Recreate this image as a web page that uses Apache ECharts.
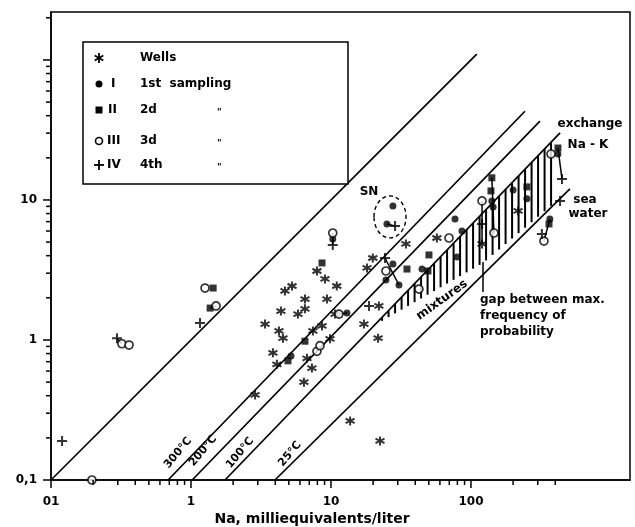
<!DOCTYPE html>
<html>
<head>
<meta charset="utf-8">
<script src="https://cdn.jsdelivr.net/npm/echarts@6/dist/echarts.min.js"></script>
<style>
html, body { margin: 0; padding: 0; background: #fff; }
#chart { width: 635px; height: 527px; }
</style>
</head>
<body>
<div id="chart"></div>
<script>
// axis ranges (log10 scale)
const xMin = 0.1, xMax = 1368;
const yMin = 0.1, yMax = 220;

// tick labels as printed on the figure
const xTickLabels = { 0.1: '01', 1: '1', 10: '10', 100: '100' };
const yTickLabels = { 0.1: '0,1', 1: '1', 10: '10' };
const xMajorTicks = [0.1, 1, 10, 100];
const yMajorTicks = [0.1, 1, 10, 100];
const xMinorTicks = [0.2, 0.3, 0.4, 0.5, 0.6, 0.7, 0.8, 0.9, 2, 3, 4, 5, 6, 7, 8, 9,
    20, 30, 40, 50, 60, 70, 80, 90, 200, 300, 400];
const yMinorTicks = [0.2, 0.3, 0.4, 0.5, 0.6, 0.7, 0.8, 0.9, 2, 3, 4, 5, 6, 7, 8, 9,
    20, 30, 40, 50, 60, 70, 80, 90, 200];

// samples, [Na, K] in meq/l
const wells = [[2.87, 0.405], [3.38, 1.30], [3.85, 0.81], [4.11, 0.67], [4.25, 1.16], [4.54, 1.03],
    [4.69, 2.24], [5.27, 2.43], [4.39, 1.61], [5.81, 1.53], [6.52, 1.96], [6.52, 1.67], [7.43, 1.16],
    [8.63, 1.26], [6.74, 0.74], [7.31, 0.63], [6.41, 0.50], [9.84, 1.02], [9.36, 1.96], [7.94, 3.11],
    [9.06, 2.73], [11.0, 2.43], [10.7, 1.53], [18.1, 3.27], [19.9, 3.85], [34.3, 4.85], [22.0, 1.75],
    [17.2, 1.30], [21.7, 1.03], [57.1, 5.35], [120, 4.85], [217, 8.35], [13.7, 0.264], [22.4, 0.19]];
const sampling1 = [[27.7, 9.06], [25.1, 6.74], [10.3, 5.26], [5.18, 0.77], [27.7, 3.49], [24.7, 2.68],
    [30.6, 2.47], [13.0, 1.56], [44.7, 3.21], [79.4, 3.92], [86.3, 6.01], [76.9, 7.31], [141, 9.84],
    [144, 8.91], [200, 11.8], [251, 10.2], [418, 21.3], [366, 7.31]];
const sampling2 = [[1.44, 2.35], [1.37, 1.69], [4.93, 0.71], [6.52, 0.98], [8.63, 3.55], [50.1, 4.05],
    [49.3, 3.11], [141, 14.4], [139, 11.6], [251, 12.4], [418, 23.5], [361, 6.74], [34.9, 3.21]];
const sampling3 = [[0.196, 0.1], [0.321, 0.94], [0.361, 0.92], [1.26, 2.35], [1.51, 1.75], [7.94, 0.83],
    [8.35, 0.91], [10.3, 5.81], [11.4, 1.53], [24.7, 3.11], [42.5, 2.31], [69.7, 5.35], [120, 9.84],
    [146, 5.81], [373, 21.3], [332, 5.09]];
const sampling4 = [[0.12, 0.19], [0.296, 1.03], [1.16, 1.32], [10.3, 4.77], [28.7, 6.52], [24.3, 3.85],
    [18.7, 1.75], [120, 6.74], [447, 14.1], [433, 9.84], [321, 5.71]];

// tie lines joining samplings of one well, [Na1, K1, Na2, K2]
const ties = [[25.1, 6.74, 28.7, 6.52], [0.296, 1.03, 0.321, 0.94], [10.3, 5.81, 10.3, 4.77],
    [120, 9.84, 120, 4.85], [141, 14.4, 146, 5.81], [366, 7.31, 332, 5.09], [418, 23.5, 447, 14.1],
    [11.4, 1.53, 13.0, 1.56], [1.37, 1.69, 1.51, 1.75], [24.3, 3.85, 30.6, 2.47]];

// reference lines, end points [Na, K]
const lineEqual = [[0.1, 0.1], [110, 110]];
const line300 = [[0.686, 0.1], [243, 43]];
const line200 = [[1.02, 0.1], [311, 36.6]];
const line100 = [[1.75, 0.1], [433, 30.1]];
const line25 = [[3.98, 0.1], [509, 12.0]];

// lower edge of the hatched band (upper edge is the 100°C line)
const hatchLower = [[21.7, 1.32], [122, 3.55], [411, 9.84]];
// centre of the SN group
const snCentre = [[26.4, 7.57]];

const FONT = '"DejaVu Sans", "Liberation Sans", sans-serif';

function tickFormatter(map) {
    return v => {
        for (const k in map) {
            if (Math.abs(v - k) / k < 1e-6) return map[k];
        }
        return '';
    };
}

// ticks drawn through the axis scale, pointing outward
function tickSeries(values, dir, len) {
    return {
        type: 'custom', clip: false, silent: true, z: 5,
        data: values.map(v => dir === 'x' ? [v, yMin] : [xMin, v]),
        renderItem: (params, api) => {
            const p = api.coord([api.value(0), api.value(1)]);
            const shape = dir === 'x'
                ? { x1: p[0], y1: p[1], x2: p[0], y2: p[1] + len }
                : { x1: p[0] - len, y1: p[1], x2: p[0], y2: p[1] };
            return { type: 'line', shape: shape, style: { stroke: '#000', lineWidth: 1.5 } };
        }
    };
}

function refLine(data) {
    return {
        type: 'line', data: data, symbol: 'none', silent: true, z: 2,
        lineStyle: { color: '#000', width: 1.7 }
    };
}

function points(data, symbol, size, filled) {
    return {
        type: 'scatter', data: data, symbol: symbol, symbolSize: size, clip: false, z: 4,
        itemStyle: filled
            ? { color: '#000', borderColor: '#000', borderWidth: symbol.indexOf('path') === 0 ? 2 : 0 }
            : { color: '#fff', borderColor: '#000', borderWidth: 1.7 }
    };
}

const asteriskPath = 'path://M5,0L5,10M0.67,2.5L9.33,7.5M0.67,7.5L9.33,2.5';
const plusPath = 'path://M5,0L5,10M0,5L10,5';

const tieSeries = {
    type: 'custom', clip: false, silent: true, z: 3,
    data: ties,
    renderItem: (params, api) => {
        const a = api.coord([api.value(0), api.value(1)]);
        const b = api.coord([api.value(2), api.value(3)]);
        return { type: 'line', shape: { x1: a[0], y1: a[1], x2: b[0], y2: b[1] },
            style: { stroke: '#000', lineWidth: 1.5 } };
    }
};

// vertical hatching between the 100°C line and the mixtures edge
const hatchSeries = {
    type: 'custom', clip: false, silent: true, z: 3,
    data: [0],
    renderItem: (params, api) => {
        const low = hatchLower.map(p => api.coord(p));
        const a = api.coord(line100[0]), b = api.coord(line100[1]);
        const children = [];
        for (let x = low[0][0] + 4; x <= low[low.length - 1][0]; x += 6.5) {
            const yTop = a[1] + (x - a[0]) * (b[1] - a[1]) / (b[0] - a[0]);
            let yBot = yTop;
            for (let i = 0; i < low.length - 1; i++) {
                if (x >= low[i][0] && x <= low[i + 1][0]) {
                    yBot = low[i][1] + (x - low[i][0]) * (low[i + 1][1] - low[i][1]) / (low[i + 1][0] - low[i][0]);
                }
            }
            children.push({ type: 'line', shape: { x1: x, y1: yTop, x2: x, y2: yBot },
                style: { stroke: '#000', lineWidth: 2 } });
        }
        return { type: 'group', children: children };
    }
};

// dashed ring around the SN samples
const snSeries = {
    type: 'custom', clip: false, silent: true, z: 3,
    data: snCentre,
    renderItem: (params, api) => {
        const c = api.coord([api.value(0), api.value(1)]);
        return { type: 'ellipse', shape: { cx: c[0], cy: c[1], rx: 16, ry: 21 },
            style: { fill: 'none', stroke: '#000', lineWidth: 1.4, lineDash: [4, 3] } };
    }
};

function txt(text, x, y, size, opts) {
    opts = opts || {};
    return {
        type: 'text', x: x, y: y, rotation: opts.rotation || 0, z: 110,
        style: {
            text: text, x: 0, y: 0, fill: '#000',
            font: 'bold ' + size + 'px ' + FONT,
            textAlign: opts.align || 'left', align: opts.align || 'left',
            textVerticalAlign: 'middle', verticalAlign: 'middle'
        }
    };
}

const L = 1.5;
const legendY = [58, 84, 110, 141, 165];
const graphics = [
    // legend box
    { type: 'rect', z: 100, shape: { x: 83, y: 42, width: 265, height: 142 },
      style: { fill: '#fff', stroke: '#000', lineWidth: L } },
    { type: 'line', z: 110, shape: { x1: 99, y1: legendY[0] - 5, x2: 99, y2: legendY[0] + 5 }, style: { stroke: '#000', lineWidth: 1.8 } },
    { type: 'line', z: 110, shape: { x1: 94.7, y1: legendY[0] - 2.5, x2: 103.3, y2: legendY[0] + 2.5 }, style: { stroke: '#000', lineWidth: 1.8 } },
    { type: 'line', z: 110, shape: { x1: 94.7, y1: legendY[0] + 2.5, x2: 103.3, y2: legendY[0] - 2.5 }, style: { stroke: '#000', lineWidth: 1.8 } },
    { type: 'circle', z: 110, shape: { cx: 99, cy: legendY[1], r: 3.5 }, style: { fill: '#000' } },
    { type: 'rect', z: 110, shape: { x: 95.5, y: legendY[2] - 3.5, width: 7, height: 7 }, style: { fill: '#000' } },
    { type: 'circle', z: 110, shape: { cx: 99, cy: legendY[3], r: 3.5 }, style: { fill: '#fff', stroke: '#000', lineWidth: 1.6 } },
    { type: 'line', z: 110, shape: { x1: 94, y1: legendY[4], x2: 104, y2: legendY[4] }, style: { stroke: '#000', lineWidth: 1.8 } },
    { type: 'line', z: 110, shape: { x1: 99, y1: legendY[4] - 5, x2: 99, y2: legendY[4] + 5 }, style: { stroke: '#000', lineWidth: 1.8 } },
    txt('I', 111, legendY[1], 12), txt('II', 108, legendY[2], 12),
    txt('III', 107, legendY[3], 12), txt('IV', 107, legendY[4], 12),
    txt('Wells', 140, legendY[0], 12), txt('1st  sampling', 140, legendY[1], 12),
    txt('2d', 140, legendY[2], 12), txt('3d', 140, legendY[3], 12), txt('4th', 140, legendY[4], 12),
    txt('"', 217, legendY[2] + 3, 9), txt('"', 217, legendY[3] + 3, 9), txt('"', 217, legendY[4] + 3, 9),
    // annotations
    txt('SN', 369, 192, 12, { align: 'center' }),
    txt('exchange', 590, 124, 12, { align: 'center' }),
    txt('Na - K', 588, 145, 12, { align: 'center' }),
    txt('sea', 585, 200, 12, { align: 'center' }),
    txt('water', 588, 214, 12, { align: 'center' }),
    txt('gap between max.', 480, 300, 12),
    txt('frequency of', 480, 316, 12),
    txt('probability', 480, 332, 12),
    txt('mixtures', 442, 300, 12, { align: 'center', rotation: 0.62 }),
    txt('300°C', 178, 453, 11, { align: 'center', rotation: 0.87 }),
    txt('200°C', 203, 451, 11, { align: 'center', rotation: 0.87 }),
    txt('100°C', 240, 453, 11, { align: 'center', rotation: 0.87 }),
    txt('25°C', 290, 454, 11, { align: 'center', rotation: 0.87 }),
    { type: 'line', z: 110, shape: { x1: 483, y1: 262, x2: 483, y2: 292 }, style: { stroke: '#000', lineWidth: 1.5 } },
    txt('Na, milliequivalents/liter', 312, 519, 14, { align: 'center' })
];

const chart = echarts.init(document.getElementById('chart'));
chart.setOption({
    animation: false,
    backgroundColor: '#fff',
    grid: { left: 51, right: 5, top: 12, bottom: 47, show: true, borderColor: '#000', borderWidth: L },
    xAxis: {
        type: 'log', logBase: 10, min: xMin, max: xMax,
        axisLine: { lineStyle: { color: '#000', width: L } },
        axisTick: { show: false }, splitLine: { show: false },
        axisLabel: { margin: 16, color: '#000', fontWeight: 'bold', fontSize: 12, fontFamily: FONT,
            formatter: tickFormatter(xTickLabels) }
    },
    yAxis: {
        type: 'log', logBase: 10, min: yMin, max: yMax,
        axisLine: { lineStyle: { color: '#000', width: L } },
        axisTick: { show: false }, splitLine: { show: false },
        axisLabel: { margin: 14, color: '#000', fontWeight: 'bold', fontSize: 12, fontFamily: FONT,
            formatter: tickFormatter(yTickLabels) }
    },
    graphic: graphics,
    series: [
        tickSeries(xMajorTicks, 'x', 8), tickSeries(xMinorTicks, 'x', 5),
        tickSeries(yMajorTicks, 'y', 8), tickSeries(yMinorTicks, 'y', 5),
        refLine(lineEqual), refLine(line300), refLine(line200), refLine(line100), refLine(line25),
        hatchSeries, snSeries, tieSeries,
        points(wells, asteriskPath, 9, true),
        points(sampling1, 'circle', 7, true),
        points(sampling2, 'rect', 7, true),
        points(sampling3, 'circle', 8, false),
        points(sampling4, plusPath, 10, true)
    ]
});
</script>
</body>
</html>
